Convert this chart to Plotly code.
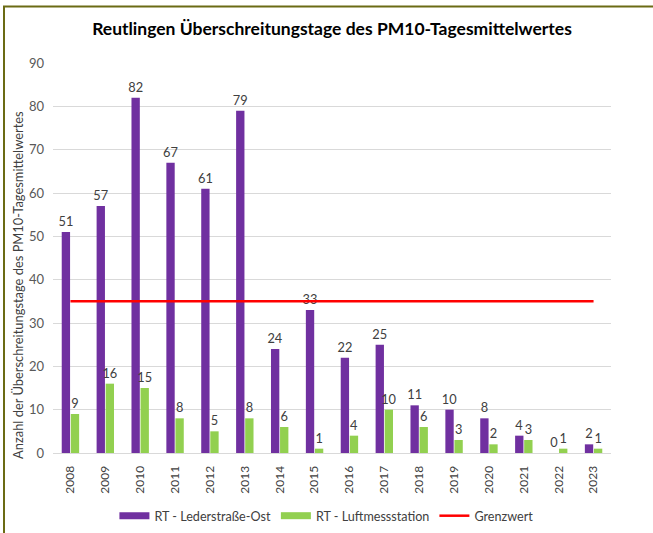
import plotly.graph_objects as go

years = [str(y) for y in range(2008, 2024)]
lederstrasse = [51, 57, 82, 67, 61, 79, 24, 33, 22, 25, 11, 10, 8, 4, 0, 2]
luftmess = [9, 16, 15, 8, 5, 8, 6, 1, 4, 10, 6, 3, 2, 3, 1, 1]
grenzwert = [35] * len(years)

FONT = "Lato"
PURPLE = "#7030A0"
GREEN = "#92D050"
RED = "#FF0000"

fig = go.Figure()
fig.add_trace(go.Bar(
    x=years, y=lederstrasse, name="RT - Lederstraße-Ost", showlegend=False,
    marker=dict(color=PURPLE, line=dict(width=0)),
    text=[str(v) for v in lederstrasse], textposition="outside",
    textfont=dict(size=12.8, color="#404040", family=FONT),
    constraintext="none", cliponaxis=False,
))
fig.add_trace(go.Bar(
    x=years, y=luftmess, name="RT - Luftmessstation", showlegend=False,
    marker=dict(color=GREEN, line=dict(width=0)),
    text=[str(v) for v in luftmess], textposition="outside",
    textfont=dict(size=12.8, color="#404040", family=FONT),
    constraintext="none", cliponaxis=False,
))
fig.add_trace(go.Scatter(
    x=years, y=grenzwert, name="Grenzwert", mode="lines", showlegend=False,
    line=dict(color=RED, width=2.5),
))
# legend entries (wide rectangles like the original)
for nm, col, w in [("RT - Lederstraße-Ost", PURPLE, 7), ("RT - Luftmessstation", GREEN, 7), ("Grenzwert", RED, 2.5)]:
    fig.add_trace(go.Scatter(x=[None], y=[None], mode="lines", name=nm,
                             line=dict(color=col, width=w), showlegend=True))

fig.update_layout(
    width=653, height=533,
    margin=dict(l=53, r=42, t=63, b=80),
    paper_bgcolor="white", plot_bgcolor="white",
    font=dict(family=FONT, color="#595959", size=13),
    barmode="group", bargap=0.48, bargroupgap=0.08,
    title=dict(text="<b>Reutlingen Überschreitungstage des PM10-Tagesmittelwertes</b>",
               x=0.5, xref="paper", xanchor="center", y=1 - 29 / 533, yref="container", yanchor="middle",
               font=dict(size=17.5, color="#000000", family=FONT)),
    showlegend=True,
    legend=dict(orientation="h", x=0.49, xanchor="center", xref="paper",
                y=1 - 516 / 533, yref="container", yanchor="middle",
                font=dict(size=12.6, color="#404040", family=FONT), traceorder="normal",
                itemwidth=30, tracegroupgap=0),
    xaxis=dict(type="category", tickangle=-90, showgrid=False, showline=True,
               linecolor="#D9D9D9", linewidth=1, ticks="", automargin=False,
               ticklabelstandoff=7, tickfont=dict(size=12, color="#404040")),
    yaxis=dict(range=[0, 90], dtick=10, showgrid=True, gridcolor="#D9D9D9", gridwidth=1,
               zeroline=False, ticks="", ticklabelstandoff=8, automargin=False,
               tickfont=dict(size=13, color="#595959")),
    annotations=[dict(text="Anzahl der Überschreitungstage des PM10-Tagesmittelwertes",
                      textangle=-90, xref="paper", yref="paper",
                      x=(18 - 53) / 558, y=(453 - 285) / 390, xanchor="center", yanchor="middle",
                      showarrow=False, font=dict(size=12.9, color="#404040", family=FONT))],
    shapes=[dict(type="rect", xref="paper", yref="paper",
                 x0=(4 - 53) / 558, x1=1.3, y0=-0.5, y1=(453 - 6.5) / 390,
                 line=dict(color="#6B6B14", width=2), fillcolor="rgba(0,0,0,0)", layer="above")],
)
fig.write_html("out.html", config={"displayModeBar": False},
               post_script="document.body.style.margin='0px';document.body.style.overflow='hidden';")
